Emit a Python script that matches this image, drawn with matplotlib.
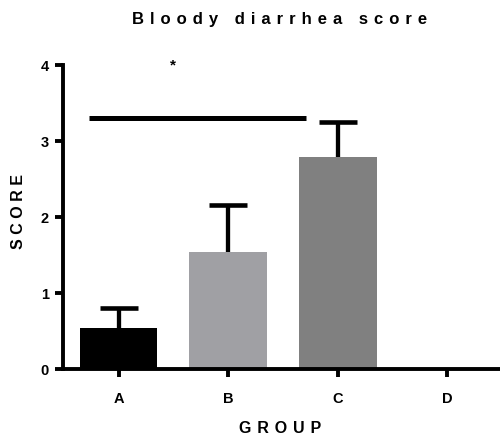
import numpy as np
import matplotlib
matplotlib.use("Agg")
import matplotlib.pyplot as plt

groups = ["A", "B", "C", "D"]
scores = [0.54, 1.54, 2.79, 0.0]
errors = [0.26, 0.62, 0.46, 0.0]
colors = ["#000000", "#a0a0a4", "#808080", "#ffffff"]

sig_span = (-0.27, 1.71)
sig_level = 3.30
sig_mark = "*"

plt.rcParams['font.family'] = ['Liberation Sans', 'DejaVu Sans']
plt.rcParams['font.weight'] = 'bold'


def spaced(s, gap=" "):
  # letter-spaced label text
  return gap.join(s)


fig = plt.figure(figsize=(5.0, 4.43), dpi=100)
ax = fig.add_axes([0.126, 0.167, 0.874, 0.686])

x = np.arange(len(groups))
ax.bar(x, scores, width=0.71, color=colors, edgecolor="none", zorder=2)

# upper error bars only, capped at the top
for xi, s, e in zip(x, scores, errors):
  if e > 0:
    ax.plot([xi, xi], [s, s + e], color="black", lw=3.1,
            solid_capstyle="butt", zorder=3)
    ax.plot([xi], [s + e], marker="_", ms=27, mew=3.3, color="black",
            zorder=3)

ax.plot(sig_span, [sig_level, sig_level], color="black", lw=3.6,
        solid_capstyle="butt", zorder=3)
ax.text(0.5, 3.99, sig_mark, ha="center", va="center",
        fontsize=11, fontweight="bold")

ax.set_xlim(-0.507, 3.48)
ax.set_ylim(0, 4)
ax.set_yticks([0, 1, 2, 3, 4])
ax.set_xticks(x)
ax.set_xticklabels(groups)

for side in ("top", "right"):
  ax.spines[side].set_visible(False)
for side in ("left", "bottom"):
  ax.spines[side].set_linewidth(2.8)
ax.tick_params(width=2.8, length=5.5, labelsize=10.5)
ax.tick_params(axis="y", pad=4.5)
ax.tick_params(axis="x", pad=11)

wide = " \u200a"
fig.text(0.038, 0.523, spaced("SCORE"), rotation=90, ha="center",
         va="center", fontsize=11.5, fontweight="bold")
fig.text(0.56, 0.032, spaced("GROUP", wide), ha="center", va="center",
         fontsize=11.5, fontweight="bold")
fig.text(0.56, 0.957, spaced("Bloody diarrhea score", wide), ha="center",
         va="center", fontsize=12, fontweight="bold")

fig.savefig("out.png", dpi=100)
